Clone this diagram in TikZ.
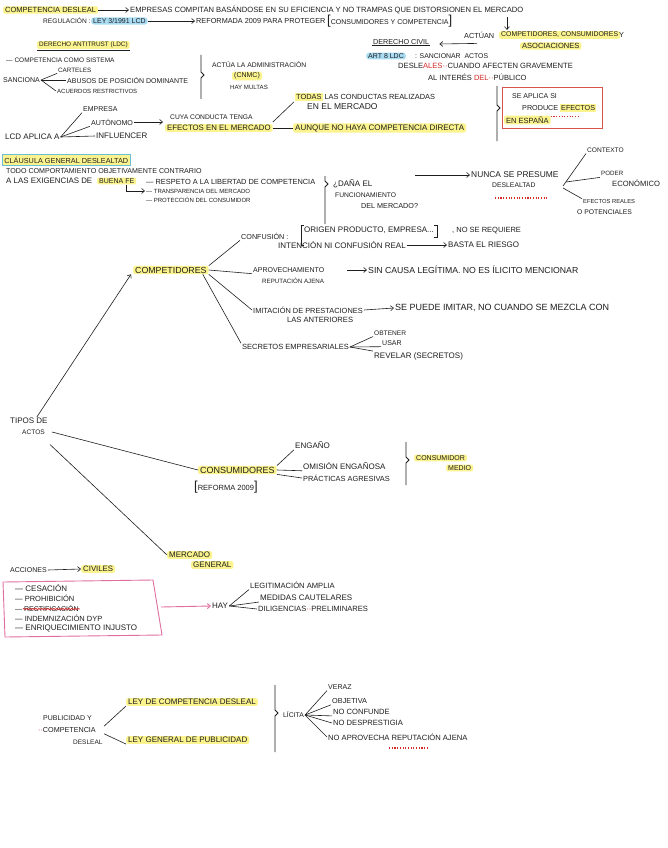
\documentclass[tikz,border=0pt]{standalone}
\usepackage{fontspec}
\setmainfont{Liberation Sans}
\usetikzlibrary{arrows.meta,decorations.pathmorphing}
\definecolor{ink}{HTML}{1E1E1E}
\definecolor{hly}{HTML}{FBF38E}
\definecolor{hlb}{HTML}{A9DCF3}
\definecolor{pinkc}{HTML}{E06FA0}
\definecolor{boxred}{HTML}{D9534F}
\definecolor{rdc}{HTML}{D42A2A}
\definecolor{cgb}{HTML}{6CC0D6}
\newcommand\hlt[1]{{\setlength{\fboxsep}{1pt}\colorbox{hly}{#1}}}
\newcommand\rdd[1]{{\color{rdc}#1}}
\newcommand\mylb{{\fontsize{13}{13}\selectfont[}}
\newcommand\myrb{{\fontsize{13}{13}\selectfont]}}
\tikzset{
  f/.style={font=\fontsize{#1}{#1}\selectfont},
  t/.style={anchor=west, inner sep=1pt, text=ink},
  hl/.style={t, fill=hly, rounded corners=2pt, inner xsep=2pt},
  hb/.style={t, fill=hlb, rounded corners=3pt, inner xsep=2pt},
  ln/.style={draw=ink, line width=0.6pt},
  brc/.style={draw=ink, line width=0.8pt},
  arr/.style={ln, -{Straight Barb[length=3pt,width=5pt]}},
  rdots/.style={draw=rdc, line width=1.1pt, dash pattern=on 1.1pt off 1.6pt},
}
\begin{document}
\begin{tikzpicture}[x=1pt,y=-1pt]
\fill[white] (0,0) rectangle (667,848);
\useasboundingbox (0,0) rectangle (667,848);

% ---------- header ----------
\node[hl,f=7.5] (cd) at (3,10) {COMPETENCIA DESLEAL};
\node[t,f=7.6] (emp) at (129,10) {EMPRESAS COMPITAN BASÁNDOSE EN SU EFICIENCIA Y NO TRAMPAS QUE DISTORSIONEN EL MERCADO};
\draw[arr] (cd) -- (emp);

\node[t,f=6.6] (reg) at (42,21) {REGULACIÓN :};
\node[hb,f=7] (ley) at (91,21) {LEY 3/1991 LCD};
\node[t,f=7.3] (ref) at (195,21) {REFORMADA 2009 PARA PROTEGER};
\node[t,f=7] (cyc) at (326,21) {\mylb CONSUMIDORES Y COMPETENCIA\myrb};
\draw[arr] (ley) -- (ref);

\coordinate (dA) at (507,17);
\coordinate (dB) at (507,30);
\draw[arr] (dA) -- (dB);

% ---------- derecho civil ----------
\node[t,f=7.2] (dciv) at (372,42) {DERECHO CIVIL};
\draw[ln] (dciv.south west) -- (dciv.south east);
\node[t,f=7.3] (actuan) at (463,35) {ACTÚAN};
\node[hl,f=6.9] (comp) at (499,35) {COMPETIDORES, CONSUMIDORES};
\node[t,f=7.3] (yy) at (618,35) {Y};
\node[hl,f=7.5] (asoc) at (520,46) {ASOCIACIONES};
\draw[arr] ([xshift=14pt,yshift=-4pt]actuan.south west) -- ([xshift=9pt,yshift=-2pt]dciv.east);
\node[hb,f=7] (art8) at (366,56) {ART 8 LDC};
\node[t,f=6.9] (sanc) at (414,56) {: SANCIONAR \ ACTOS};
\node[t,f=7.6] (desl) at (397,66) {DESLE\rdd{ALES··}CUANDO AFECTEN GRAVEMENTE};
\node[t,f=7.5] (alint) at (427,77) {AL INTERÉS \rdd{DEL··}PÚBLICO};

% ---------- antitrust ----------
\node[hl,f=6.4] (dat) at (37,45) {DERECHO ANTITRUST (LDC)};
\draw[ln] ([yshift=-1pt]dat.south west) -- ([yshift=-1pt]dat.south east);
\node[t,f=6.5] (ccs) at (5,60) {— COMPETENCIA COMO SISTEMA};
\node[t,f=7] (sanciona) at (2,80) {SANCIONA};
\node[t,f=6.3] (cart) at (57,70) {CARTELES};
\node[t,f=7] (abus) at (66,80) {ABUSOS DE POSICIÓN DOMINANTE};
\node[t,f=6] (acu) at (56,91) {ACUERDOS RESTRICTIVOS};
\draw[ln] (sanciona.east) -- (cart.south west);
\draw[ln] (sanciona.east) -- (abus.west);
\draw[ln] (sanciona.east) -- (acu.west);
\draw[brc] (201,55) -- (201,72) -- (204,75) -- (201,78) -- (201,99);
\node[t,f=6.8] (adm) at (211,65) {ACTÚA LA ADMINISTRACIÓN};
\node[hl,f=7] (cnmc) at (232,76) {(CNMC)};
\node[t,f=6.1] (multas) at (229,87) {HAY MULTAS};

% ---------- LCD aplica ----------
\node[t,f=8] (lcd) at (4,137) {LCD APLICA A};
\node[t,f=7] (empresa) at (82,109) {EMPRESA};
\node[t,f=7.1] (auto) at (90,122) {AUTÓNOMO};
\node[t,f=8] (infl) at (95,136) {INFLUENCER};
\draw[ln] (lcd.east) -- (empresa.south west);
\draw[ln] (lcd.east) -- (auto.south west);
\draw[ln] (lcd.east) -- (infl.west);
\node[t,f=6.7] (cuya) at (169,117) {CUYA CONDUCTA TENGA};
\node[hl,f=7.8] (efm) at (165,128) {EFECTOS EN EL MERCADO};
\draw[arr] (auto.east) -- ([xshift=-2pt]auto.east -| efm.west);
\node[t,f=7.4] (todas) at (294,97) {\hlt{TODAS} LAS CONDUCTAS REALIZADAS};
\node[t,f=8.5] (enel) at (306,107) {EN EL MERCADO};
\node[hl,f=8] (aunque) at (293,128) {AUNQUE NO HAYA COMPETENCIA DIRECTA};
\draw[ln] ([yshift=2pt]efm.north east) -- (todas.south west);
\draw[ln] (efm.east) -- (aunque.west);
\draw[brc] (497,86) -- (497,105) -- (500,108) -- (497,111) -- (497,141);
\draw[draw=boxred, line width=0.8pt] (502,87) rectangle (602,128);
\node[t,f=7] (sea) at (511,96) {SE APLICA SI};
\node[t,f=7.2] (prod) at (521,108) {PRODUCE \hlt{EFECTOS}};
\node[hl,f=7.5] (esp) at (504,120) {EN ESPAÑA};
\draw[rdots] ([yshift=-1pt]esp.north east) -- ++(28,0);

% ---------- clausula general ----------
\node[t,f=7.3, fill=hly, draw=cgb, line width=0.8pt, inner sep=2pt] (cg) at (2,160) {CLÁUSULA GENERAL DESLEALTAD};
\node[t,f=7.1] (todo) at (5,171) {TODO COMPORTAMIENTO OBJETIVAMENTE CONTRARIO};
\node[t,f=7.9] (alas) at (5,181) {A LAS EXIGENCIAS DE};
\node[hl,f=7] (buena) at (97,181) {BUENA FE};
\node[t,f=7.4] (resp) at (145,182) {— RESPETO A LA LIBERTAD DE COMPETENCIA};
\node[t,f=6] (trans) at (145,191) {— TRANSPARENCIA DEL MERCADO};
\node[t,f=6] (prot) at (145,200) {— PROTECCIÓN DEL CONSUMIDOR};
\draw[arr] ([xshift=10pt]buena.south) |- (trans.west);
\draw[brc] (325,176) -- (325,181) -- (328,184) -- (325,187) -- (325,224);
\node[t,f=8] (dana) at (332,184) {¿DAÑA EL};
\node[t,f=6.7] (func) at (334,195) {FUNCIONAMIENTO};
\node[t,f=7.2] (delm) at (360,206) {DEL MERCADO?};
\coordinate (nA) at (415,175);
\node[t,f=8.4] (nunca) at (470,175) {NUNCA SE PRESUME};
\node[t,f=6.8] (deslt) at (491,185) {DESLEALTAD};
\draw[arr] (nA) -- (nunca.west);
\draw[rdots] (495,198) -- (548,198);
\coordinate (brO) at (563,186);
\node[t,f=6.6] (ctx) at (586,150) {CONTEXTO};
\node[t,f=6.2] (poder) at (600,173) {PODER};
\node[t,f=7.6] (econ) at (611,183) {ECONÓMICO};
\node[t,f=5.8] (efr) at (582,202) {EFECTOS REALES};
\node[t,f=6.8] (opot) at (576,212) {O POTENCIALES};
\draw[ln] (brO) -- (ctx.south west);
\draw[ln] ([xshift=3pt,yshift=4pt]brO) -- ([yshift=-1pt]poder.south west);
\draw[ln] ([yshift=-2pt]brO) -- (efr.north west);

% ---------- competidores ----------
\node[hl,f=8.8] (compet) at (133,270) {COMPETIDORES};
\node[t,f=7.2] (conf) at (240,236) {CONFUSIÓN :};
\node[t,f=8,inner xsep=3pt] (origen) at (301,230) {ORIGEN PRODUCTO, EMPRESA...};
\draw[brc] ([xshift=3pt]origen.north west) -- (origen.north west) -- ++(0,20) -- ++(3,0);
\draw[brc] ([xshift=-3pt]origen.north east) -- (origen.north east) -- ++(0,12) -- ++(-3,0);
\node[t,f=7.5] (noreq) at (451,231) {, NO SE REQUIERE};
\node[t,f=8] (intenc) at (277,245) {INTENCIÓN NI CONFUSIÓN REAL};
\node[t,f=8] (basta) at (447,245) {BASTA EL RIESGO};
\draw[arr] (intenc.east) -- (basta.west);
\node[t,f=7] (aprov) at (252,270) {APROVECHAMIENTO};
\node[t,f=6.2] (rep) at (261,281) {REPUTACIÓN AJENA};
\node[t,f=8.7] (sinc) at (367,270) {SIN CAUSA LEGÍTIMA. NO ES ÍLICITO MENCIONAR};
\draw[arr] ([xshift=22pt]aprov.east) -- (sinc.west);
\node[t,f=7.4] (imit) at (252,310) {IMITACIÓN DE PRESTACIONES};
\node[t,f=9] (sepuede) at (394,308) {SE PUEDE IMITAR, NO CUANDO SE MEZCLA CON};
\node[t,f=7.6] (lasant) at (286,320) {LAS ANTERIORES};
\draw[arr] (imit.east) -- (sepuede.west);
\node[t,f=7.5] (secr) at (241,347) {SECRETOS EMPRESARIALES};
\node[t,f=6.6] (obt) at (373,333) {OBTENER};
\node[t,f=7] (usar) at (381,343) {USAR};
\node[t,f=8] (rev) at (373,356) {REVELAR (SECRETOS)};
\draw[ln] (secr.east) -- (obt.south west);
\draw[ln] (secr.east) -- (usar.south west);
\draw[ln] (secr.east) -- (rev.north west);
\draw[ln] (compet.north east) -- (conf.south west);
\draw[ln] (compet.east) -- (aprov.south west);
\draw[ln] (compet.south east) -- (imit.west);
\draw[ln] ([xshift=-6pt]compet.south east) -- (secr.north west);

% ---------- tipos de actos ----------
\node[t,f=8] (tipos) at (9,421) {TIPOS DE};
\node[t,f=6.6] (actos) at (21,432) {ACTOS};
\draw[arr] ([xshift=8pt]tipos.north) -- ([xshift=-2pt]compet.south west);

\node[hl,f=9] (consum) at (198,470) {CONSUMIDORES};
\node[t,f=7.5] (reforma) at (193,487) {\mylb REFORMA 2009\myrb};
\draw[ln] ([xshift=6pt]actos.east) -- (consum.west);
\node[t,f=8] (engano) at (294,445) {ENGAÑO};
\node[t,f=8] (omis) at (302,466) {OMISIÓN ENGAÑOSA};
\node[t,f=7.4] (pract) at (302,478) {PRÁCTICAS AGRESIVAS};
\draw[ln] (consum.north east) -- (engano.south west);
\draw[ln] (consum.east) -- (omis.south west);
\draw[ln] (consum.south east) -- (pract.west);
\draw[brc] (406,442) -- (406,457) -- (409,460) -- (406,463) -- (406,485);
\node[hl,f=7] (cmed) at (414,458) {CONSUMIDOR};
\node[hl,f=7] (medio) at (446,468) {MEDIO};

\node[hl,f=8] (merc) at (167,555) {MERCADO};
\node[hl,f=8] (gen) at (191,565) {GENERAL};
\draw[ln] ([xshift=4pt,yshift=-9pt]actos.south east) -- (merc.west);

% ---------- acciones ----------
\node[t,f=7] (acciones) at (9,570) {ACCIONES};
\node[hl,f=7.8] (civiles) at (81,569) {CIVILES};
\draw[arr] (acciones.east) -- (civiles.west);
\draw[draw=pinkc, line width=0.9pt] (3,582) -- (153,580) -- (162,635) -- (5,637) -- cycle;
\node[t,f=8] (ces) at (14,588) {— CESACIÓN};
\node[t,f=7.5] (proh) at (14,598) {— PROHIBICIÓN};
\node[t,f=7] (rect) at (14,608) {— RECTIFICACIÓN};
\node[t,f=7.5] (indem) at (14,618) {— INDEMNIZACIÓN DYP};
\node[t,f=8] (enriq) at (14,628) {— ENRIQUECIMIENTO INJUSTO};
\draw[draw=rdc, line width=0.7pt, decorate, decoration={snake, amplitude=0.7pt, segment length=3pt}] ([xshift=9pt,yshift=-1pt]rect.west) -- ([yshift=-1pt]rect.east);
\coordinate (boxR) at (161,607);
\node[t,f=8] (hay) at (211,606) {HAY};
\draw[draw=pinkc, line width=0.9pt, -{Straight Barb[length=3pt,width=5pt]}] (boxR) -- (hay.west);
\node[t,f=7.6] (legit) at (249,585) {LEGITIMACIÓN AMPLIA};
\node[t,f=8] (medid) at (259,598) {MEDIDAS CAUTELARES};
\node[t,f=7.6] (dilig) at (257,609) {DILIGENCIAS\rdd{··}PRELIMINARES};
\draw[ln] (hay.east) -- (legit.south west);
\draw[ln] (hay.east) -- (medid.south west);
\draw[ln] (hay.east) -- (dilig.west);

% ---------- publicidad ----------
\node[t,f=7] (pub1) at (42,718) {PUBLICIDAD Y};
\node[t,f=7.2] (pub2) at (37,730) {\rdd{··}COMPETENCIA};
\node[t,f=6.5] (pub3) at (72,742) {DESLEAL};
\node[hl,f=8] (ley1) at (126,702) {LEY DE COMPETENCIA DESLEAL};
\node[hl,f=8] (ley2) at (126,740) {LEY GENERAL DE PUBLICIDAD};
\draw[ln] ([xshift=7pt]pub2.north east) -- (ley1.south west);
\draw[ln] ([xshift=7pt]pub2.south east) -- (ley2.south west);
\draw[brc] (275,685) -- (275,710) -- (278,713) -- (275,716) -- (275,752);
\node[t,f=6.8] (licita) at (282,715) {LÍCITA};
\node[t,f=7] (veraz) at (327,687) {VERAZ};
\node[t,f=7.3] (objet) at (331,701) {OBJETIVA};
\node[t,f=7.6] (noconf) at (332,712) {NO CONFUNDE};
\node[t,f=7.6] (nodesp) at (332,723) {NO DESPRESTIGIA};
\node[t,f=7.6] (noaprov) at (327,737) {NO APROVECHA REPUTACIÓN AJENA};
\draw[ln] (licita.east) -- (veraz.south west);
\draw[ln] (licita.east) -- (objet.south west);
\draw[ln] (licita.east) -- (noconf.south west);
\draw[ln] (licita.east) -- (nodesp.west);
\draw[ln] (licita.east) -- (noaprov.west);
\draw[rdots] (389,748) -- (429,748);
\end{tikzpicture}
\end{document}
